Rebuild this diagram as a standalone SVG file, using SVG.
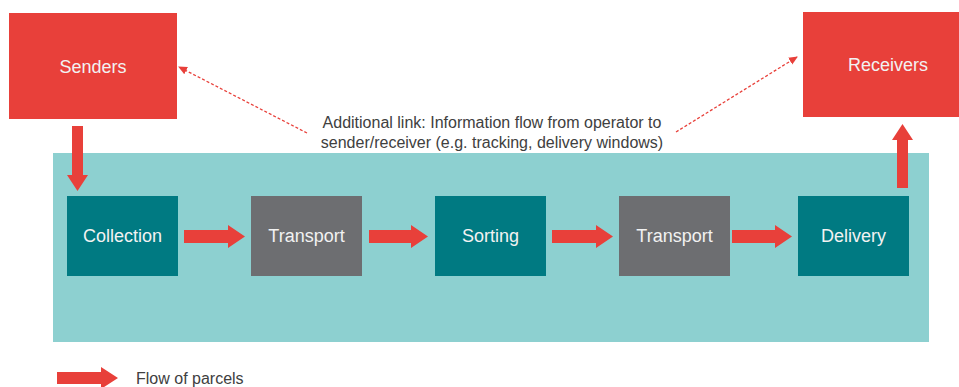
<svg xmlns="http://www.w3.org/2000/svg" width="959" height="387" viewBox="0 0 959 387">
<style>
.red{fill:#E8403A}
.teal{fill:#007A82}
.gray{fill:#6D6E71}
.lbl{font-family:"Liberation Sans",Arial,sans-serif;font-size:18px;fill:#F2F2F2;text-anchor:middle}
.note{font-family:"Liberation Sans",Arial,sans-serif;font-size:16px;fill:#404040;text-anchor:middle}
.leg{font-family:"Liberation Sans",Arial,sans-serif;font-size:16px;fill:#404040}
.dash{stroke:#E8403A;stroke-width:1.3;stroke-dasharray:3 2;fill:none}
</style>
<defs>
<marker id="ah" markerWidth="10" markerHeight="10" refX="8" refY="5" orient="auto" markerUnits="userSpaceOnUse">
<path d="M0,1 L9,5 L0,9 Z" fill="#E8403A"/>
</marker>
</defs>
<rect width="959" height="387" fill="#FFFFFF"/>
<g id="background">
<rect x="53" y="153" width="876" height="189" fill="#8DD0D0"/>
</g>
<g id="senders">
<rect class="red" x="9" y="13" width="168" height="106"/>
<text class="lbl" x="93" y="73">Senders</text>
</g>
<g id="receivers">
<rect class="red" x="803" y="12" width="170" height="105"/>
<text class="lbl" x="888" y="71">Receivers</text>
</g>
<g id="collection">
<rect class="teal" x="67" y="196" width="111" height="80"/>
<text class="lbl" x="122.5" y="242">Collection</text>
</g>
<g id="transport1">
<rect class="gray" x="251" y="196" width="111" height="80"/>
<text class="lbl" x="306.5" y="242">Transport</text>
</g>
<g id="sorting">
<rect class="teal" x="435" y="196" width="111" height="80"/>
<text class="lbl" x="490.5" y="242">Sorting</text>
</g>
<g id="transport2">
<rect class="gray" x="619" y="196" width="111" height="80"/>
<text class="lbl" x="674.5" y="242">Transport</text>
</g>
<g id="delivery">
<rect class="teal" x="798" y="196" width="111" height="80"/>
<text class="lbl" x="853.5" y="242">Delivery</text>
</g>
<g id="connectors">
<path class="red" d="M72,126 H83 V175 H88 L77.5,191 L67,175 H72 Z"/>
<path class="red" d="M184,230 H228 V225 L245,236.5 L228,248 V243 H184 Z"/>
<path class="red" d="M369,230 H411 V225 L428,236.5 L411,248 V243 H369 Z"/>
<path class="red" d="M552,230 H596 V225 L613,236.5 L596,248 V243 H552 Z"/>
<path class="red" d="M732,230 H775 V225 L792,236.5 L775,248 V243 H732 Z"/>
<path class="red" d="M897,188 V140 H892 L902.5,124 L913,140 H908 V188 Z"/>
<line class="dash" x1="307" y1="133" x2="179" y2="67" marker-end="url(#ah)"/>
<line class="dash" x1="676" y1="132" x2="797" y2="57" marker-end="url(#ah)"/>
</g>
<g id="annotation">
<text class="note" x="492" y="128">Additional link: Information flow from operator to</text>
<text class="note" x="492" y="148">sender/receiver (e.g. tracking, delivery windows)</text>
</g>
<g id="legend">
<path class="red" d="M57,372 H101 V367 L118,378 L101,389 V384 H57 Z"/>
<text class="leg" x="136" y="384">Flow of parcels</text>
</g>
</svg>
